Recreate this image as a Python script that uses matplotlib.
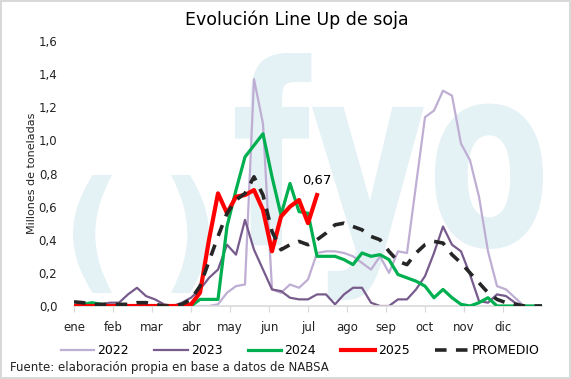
"""Evolución Line Up de soja — recreación del gráfico semanal"""
import matplotlib
matplotlib.use("Agg")
import matplotlib.pyplot as plt
from matplotlib.textpath import TextPath
from matplotlib.patches import PathPatch
from matplotlib.font_manager import FontProperties
from matplotlib.transforms import Affine2D

plt.rcParams["font.family"] = ["DejaVu Sans"]

# semanas 0..52
MONTHS = ["ene", "feb", "mar", "abr", "may", "jun", "jul", "ago", "sep", "oct", "nov", "dic"]

s2022 = [0, 0, 0, 0, 0, 0, 0, 0, 0, 0, 0, 0, 0, 0, 0, 0,
         0.01, 0.08, 0.12, 0.13, 1.37, 1.10, 0.10, 0.08, 0.13, 0.11, 0.16, 0.32,
         0.33, 0.33, 0.32, 0.30, 0.26, 0.22, 0.30, 0.20, 0.33, 0.32, 0.73, 1.14,
         1.18, 1.30, 1.27, 0.98, 0.88, 0.66, 0.33, 0.12, 0.10, 0.05, 0.0, 0.0, 0.0]

s2023 = [0.0, 0.0, 0.0, 0.01, 0.02, 0.02, 0.07, 0.11, 0.06, 0.04, 0.01, 0.0,
         0.02, 0.05, 0.10, 0.17, 0.22, 0.37, 0.31, 0.52, 0.34, 0.22, 0.10, 0.09,
         0.05, 0.04, 0.04, 0.07, 0.07, 0.01, 0.07, 0.11, 0.11, 0.02, 0.0, 0.0,
         0.04, 0.04, 0.10, 0.18, 0.32, 0.48, 0.37, 0.33, 0.19, 0.03, 0.02, 0.07,
         0.06, 0.02, 0.0, 0.0, 0.0]

s2024 = [0.0, 0.01, 0.02, 0.01, 0.0, 0.0, 0.0, 0.0, 0.0, 0.0, 0.0, 0.0, 0.0, 0.0,
         0.04, 0.04, 0.04, 0.48, 0.70, 0.90, 0.97, 1.04, 0.78, 0.55, 0.74, 0.57,
         0.56, 0.30, 0.30, 0.30, 0.28, 0.25, 0.32, 0.30, 0.31, 0.28, 0.19, 0.17,
         0.15, 0.12, 0.05, 0.10, 0.05, 0.01, 0.0, 0.02, 0.05, 0.0, 0.0, 0.0,
         0.0, 0.0, 0.0]

s2025 = [0, 0, 0, 0, 0, 0, 0, 0, 0, 0, 0, 0, 0, 0.01, 0.08, 0.40, 0.68, 0.56,
         0.66, 0.67, 0.70, 0.58, 0.33, 0.54, 0.60, 0.64, 0.50, 0.67]

promedio = [0.025, 0.02, 0.01, 0.01, 0.01, 0.01, 0.01, 0.02, 0.02, 0.01, 0.0, 0.0,
            0.01, 0.04, 0.12, 0.27, 0.42, 0.56, 0.64, 0.68, 0.78, 0.67, 0.45, 0.34,
            0.37, 0.39, 0.37, 0.40, 0.44, 0.49, 0.50, 0.48, 0.46, 0.42, 0.40, 0.33,
            0.27, 0.25, 0.32, 0.37, 0.39, 0.38, 0.31, 0.26, 0.20, 0.14, 0.08, 0.04,
            0.02, 0.01, 0.0, 0.0, 0.0]

W, H = 571, 379
WM = "#e4f1f5"


def add_mark(ax, fig, s, box):
    """marca de agua: texto ajustado a una caja en píxeles (x0, y0, x1, y1)"""
    tp = TextPath((0, 0), s, size=100, prop=FontProperties(family="DejaVu Sans", weight="bold"))
    ext = tp.get_extents()
    x0, y0, x1, y1 = box
    sx = (x1 - x0) / W / ext.width
    sy = (y1 - y0) / H / ext.height
    tr = (Affine2D().translate(-ext.x0, -ext.y0).scale(sx, sy)
          .translate(x0 / W, 1 - y1 / H) + fig.transFigure)
    p = PathPatch(tp, transform=tr, facecolor=WM, edgecolor="none", zorder=0, clip_on=False)
    ax.add_artist(p)


fig = plt.figure(figsize=(W / 100, H / 100), dpi=100)
fig.patch.set_edgecolor("#d9d9d9")
fig.patch.set_linewidth(1.5)
ax = fig.add_axes([74 / W, 1 - 306 / H, 468 / W, 265 / H])

add_mark(ax, fig, "(", (73, 175, 112, 293))
add_mark(ax, fig, ")", (171, 175, 209, 293))
add_mark(ax, fig, "fyo", (235, 53, 543, 300))

x = list(range(53))
l1, = ax.plot(x, s2022, color="#bfaed3", lw=1.6, zorder=2)
l2, = ax.plot(x, s2023, color="#775b8c", lw=1.6, zorder=2)
l3, = ax.plot(x, s2024, color="#00b050", lw=2.3, zorder=3)
l4, = ax.plot(x[:len(s2025)], s2025, color="#ff0000", lw=3.0, zorder=4)
l5, = ax.plot(x, promedio, color="#262626", lw=2.6, ls=(0, (3.2, 2.6)), zorder=5)

ax.annotate("0,67", (len(s2025) - 1, s2025[-1]), textcoords="offset points",
            xytext=(0, 6), ha="center", va="bottom", fontsize=9.5, color="black")

ax.set_xlim(0, 52)
ax.set_ylim(0, 1.6)
ax.set_xticks([52 / 12 * k for k in range(12)])
ax.set_xticklabels(MONTHS, fontsize=8.5, color="#222222")
yt = [0.2 * k for k in range(9)]
ax.set_yticks(yt)
ax.set_yticklabels([f"{v:.1f}".replace(".", ",") for v in yt], fontsize=8.5, color="#222222")
ax.tick_params(axis="x", length=4, color="#d9d9d9", pad=7)
ax.tick_params(axis="y", length=0, pad=12)
for side in ["left", "top", "right"]:
    ax.spines[side].set_visible(False)
ax.spines["bottom"].set_color("#d9d9d9")
ax.spines["bottom"].set_linewidth(1.2)
ax.patch.set_visible(False)
ax.set_ylabel("Millones de toneladas", fontsize=8, color="#222222", labelpad=1)

fig.text(297 / W, 1 - 20 / H, "Evolución Line Up de soja", ha="center", va="center",
         fontsize=12.5, color="black")

fig.legend([l1, l2, l3, l4, l5], ["2022", "2023", "2024", "2025", "PROMEDIO"],
           loc="center", bbox_to_anchor=(300 / W, 1 - 351 / H), ncol=5, frameon=False,
           fontsize=9, handlelength=2.7, handletextpad=0.25, columnspacing=2.0)

fig.text(10 / W, 1 - 368 / H, "Fuente: elaboración propia en base a datos de NABSA",
         ha="left", va="center", fontsize=8.5, color="#222222")

fig.savefig("out.png", dpi=100, edgecolor=fig.get_edgecolor())
